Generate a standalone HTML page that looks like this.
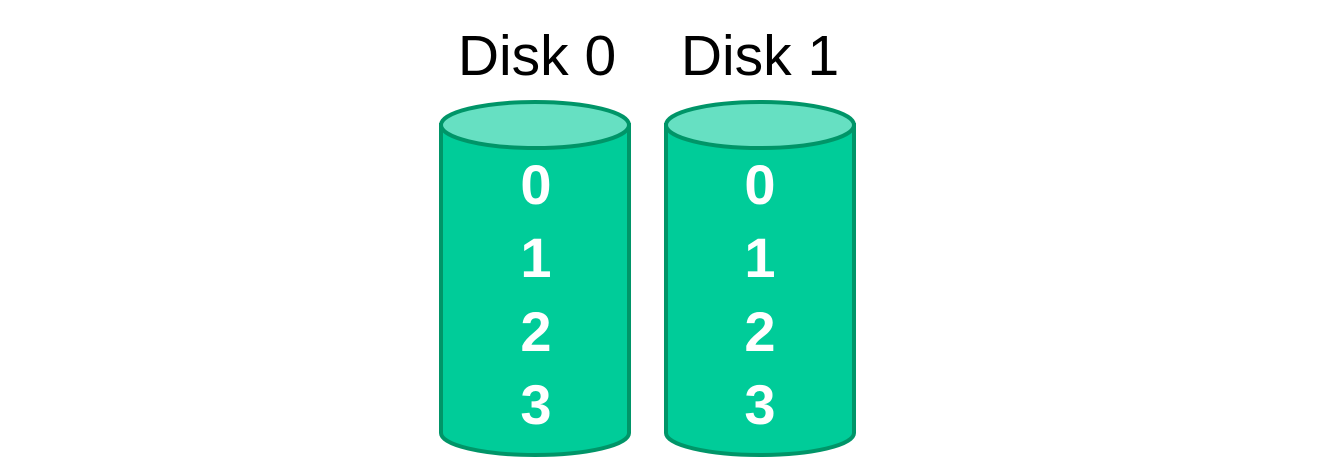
<!DOCTYPE html>
<html><head><style>html,body{margin:0;padding:0;background:#fff;}</style></head>
<body>
<svg width="1332" height="466" xmlns="http://www.w3.org/2000/svg">
<g font-family="'Liberation Sans', 'DejaVu Sans', sans-serif">
<text x="537" y="75" font-size="57" text-anchor="middle" fill="#000">Disk 0</text>
<text x="760" y="75" font-size="57" text-anchor="middle" fill="#000">Disk 1</text>
<g stroke="#009568" stroke-width="4">
<path d="M441,125 L441,433 A94,22 0 0 0 629,433 L629,125 Z" fill="#00cc99"/>
<ellipse cx="535" cy="125" rx="94" ry="23" fill="#66e0c2"/>
<path d="M666,125 L666,433 A94,22 0 0 0 854,433 L854,125 Z" fill="#00cc99"/>
<ellipse cx="760" cy="125" rx="94" ry="23" fill="#66e0c2"/>
</g>
<g fill="#fff" font-weight="bold" font-size="56" text-anchor="middle">
<text x="536" y="204">0</text><text x="536" y="277">1</text><text x="536" y="351">2</text><text x="536" y="424">3</text>
<text x="760" y="204">0</text><text x="760" y="277">1</text><text x="760" y="351">2</text><text x="760" y="424">3</text>
</g>
</g>
</svg>
</body></html>
